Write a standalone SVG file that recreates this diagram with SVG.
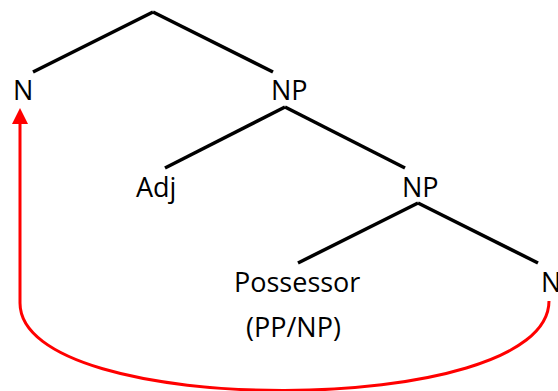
<svg xmlns="http://www.w3.org/2000/svg" width="558" height="391" viewBox="0 0 558 391">
<defs>
<style>
.t{font-family:"Open Sans","Liberation Sans",sans-serif;font-size:27px;fill:#000}
.e{stroke:#000;stroke-width:3.5;fill:none;stroke-linecap:butt}
.r{stroke:#f00;stroke-width:3;fill:none}
</style>
</defs>
<g id="edges">
<line class="e" x1="153" y1="12" x2="33" y2="72"/>
<line class="e" x1="153" y1="12" x2="273" y2="72"/>
<line class="e" x1="285" y1="107" x2="165" y2="168"/>
<line class="e" x1="285" y1="107" x2="405" y2="168"/>
<line class="e" x1="418" y1="203" x2="298" y2="263"/>
<line class="e" x1="418" y1="203" x2="538" y2="263"/>
</g>
<g id="arrow">
<path class="r" d="M549,301 C549,420 20,420 20,303 L20,124"/>
<path d="M20,108 L28,124 L12,124 Z" fill="#f00"/>
</g>
<g id="n-N1"><text class="t" x="13" y="100">N</text></g>
<g id="n-NP1"><text class="t" x="271" y="100">NP</text></g>
<g id="n-Adj"><text class="t" x="136" y="197">Adj</text></g>
<g id="n-NP2"><text class="t" x="402" y="197">NP</text></g>
<g id="n-Poss"><text class="t" x="234" y="292">Possessor</text><text class="t" x="246" y="337">(PP/NP)</text></g>
<g id="n-N2"><text class="t" x="541" y="292">N</text></g>
</svg>
